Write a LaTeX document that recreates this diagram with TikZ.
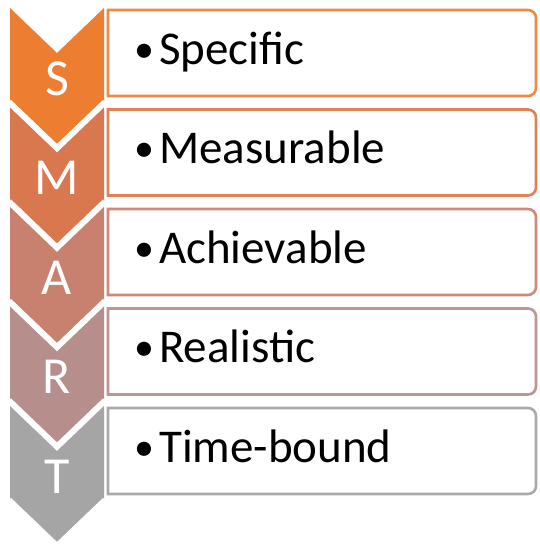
\documentclass[tikz,border=0pt]{standalone}
\usepackage{fontspec}
\setmainfont{Carlito}
\definecolor{cS}{HTML}{ED7D31}
\definecolor{cM}{HTML}{D9774F}
\definecolor{cA}{HTML}{C8806F}
\definecolor{cR}{HTML}{B68E8B}
\definecolor{cT}{HTML}{A5A5A5}
\definecolor{bS}{HTML}{EE8A45}
\definecolor{bM}{HTML}{E08258}
\definecolor{bA}{HTML}{D08878}
\definecolor{bR}{HTML}{BE9592}
\definecolor{bT}{HTML}{AAAAAA}
\tikzset{
  boxline/.style={line width=2.6pt, fill=white},
  chev/.style={draw=white, line width=3pt, line join=miter},
  letter/.style={anchor=base, text=white, inner sep=0pt, font=\fontsize{52}{56}\selectfont},
  item/.style={anchor=base west, inner sep=0pt, text=black, font=\fontsize{47}{52}\selectfont},
  bul/.style={anchor=base, inner sep=0pt, text=black, font=\fontsize{40}{44}\selectfont}
}
\newcommand{\smartbox}[2]{% #1 top y, #2 colour
  \draw[boxline, draw=#2] (108,#1+2) -- (528,#1+2)
    arc[start angle=-90, end angle=0, radius=8] -- (536,#1+80)
    arc[start angle=0, end angle=90, radius=8] -- (108,#1+88) -- cycle;
}
\newcommand{\smartchev}[2]{% #1 top y, #2 colour
  \fill[#2] (10,#1) -- (57,#1+45) -- (104,#1) -- (104,#1+93) -- (57,#1+138) -- (10,#1+93) -- cycle;
  \draw[chev] (10,#1+93) -- (57,#1+138) -- (104,#1+93);
}
\begin{document}
\begin{tikzpicture}[x=1pt,y=-1pt]
\useasboundingbox (0,0) rectangle (539,544);
\fill[white] (0,0) rectangle (539,544);
% boxes
\smartbox{8}{bS}
\smartbox{107.5}{bM}
\smartbox{207}{bA}
\smartbox{306.5}{bR}
\smartbox{406}{bT}
% chevrons, bottom first so that upper tips overlay
\smartchev{406}{cT}
\smartchev{306.5}{cR}
\smartchev{207}{cA}
\smartchev{107.5}{cM}
\smartchev{8}{cS}
% letters
\node[letter] (lS) at (57,95) {S};
\node[letter] (lM) at (57,194.5) {M};
\node[letter] (lA) at (57,294) {A};
\node[letter] (lR) at (57,393.5) {R};
\node[letter] (lT) at (57,493) {T};
% bullets and items
\node[bul] (b1) at (144,62) {•};
\node[item] (t1) at (159,64) {Specific};
\node[bul] (b2) at (144,161.5) {•};
\node[item] (t2) at (159,163.5) {Measurable};
\node[bul] (b3) at (144,261) {•};
\node[item] (t3) at (159,263) {Achievable};
\node[bul] (b4) at (144,360.5) {•};
\node[item] (t4) at (159,362.5) {Realistic};
\node[bul] (b5) at (144,460) {•};
\node[item] (t5) at (159,462) {Time-bound};
\end{tikzpicture}
\end{document}
